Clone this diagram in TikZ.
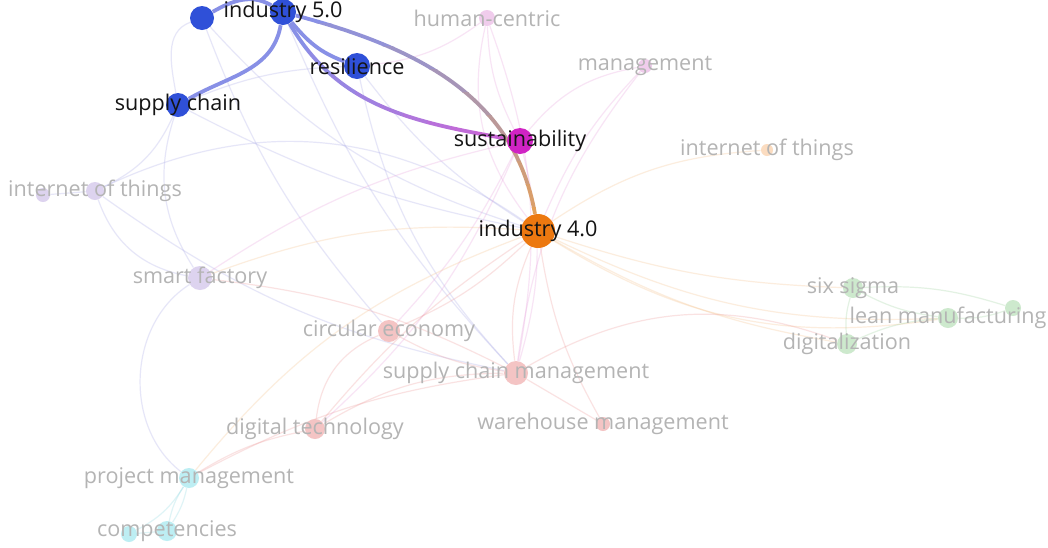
\documentclass[tikz,border=0pt]{standalone}
\usepackage{fontspec}
\setmainfont{Open Sans}
\usetikzlibrary{backgrounds}
\definecolor{Cobalt}{HTML}{2F50D8}
\definecolor{Fuchsia}{HTML}{D023C4}
\definecolor{Amber}{HTML}{EC7810}
\definecolor{LilacF}{HTML}{DDD3EF}
\definecolor{PinkF}{HTML}{F0CCEC}
\definecolor{RoseF}{HTML}{F4C4C4}
\definecolor{SageF}{HTML}{CDE9CD}
\definecolor{AquaF}{HTML}{BDEEF3}
\definecolor{PeachF}{HTML}{FBDCC0}
\definecolor{BlueLn}{HTML}{8890E6}
\definecolor{VioletLn}{HTML}{D060D4}
\definecolor{TanLn}{HTML}{E4A05A}
\definecolor{LilacLn}{HTML}{A8A8E6}
\definecolor{PinkLn}{HTML}{E8A0DC}
\definecolor{RoseLn}{HTML}{EE9A9A}
\definecolor{PeachLn}{HTML}{F5C089}
\definecolor{SageLn}{HTML}{9CD29C}
\definecolor{AquaLn}{HTML}{8ED8E2}
\definecolor{Ink}{HTML}{141414}
\definecolor{Ash}{HTML}{B4B4B4}

\begin{document}
\begin{tikzpicture}[
      x=0.5pt, y=-0.5pt,
      kw/.style={circle, inner sep=0pt, minimum size=#1},
      hot/.style={label={[font=\fontsize{10.8}{13}\selectfont, text=Ink]center:#1}},
      dim/.style={label={[font=\fontsize{10.8}{13}\selectfont, text=Ash]center:#1}},
      faint/.style={line width=0.6pt, draw opacity=0.28},
      strong/.style={line width=1.9pt},
  ]

  % Frame
  \useasboundingbox (0,0) rectangle (1048,547);

  % Cluster 1 (blue)
  \node[kw=12pt, fill=Cobalt] (n1) at (202,18) {};
  \node[kw=13pt, fill=Cobalt, hot=industry 5.0] (i5) at (283,12) {};
  \node[kw=13pt, fill=Cobalt, hot=resilience] (res) at (357,66) {};
  \node[kw=12pt, fill=Cobalt, hot=supply chain] (sc) at (178,105) {};

  % Hubs
  \node[kw=13pt, fill=Fuchsia, hot=sustainability] (sus) at (520,141) {};
  \node[kw=17pt, fill=Amber, hot=industry 4.0] (i4) at (538,231) {};

  % Faded keywords
  \node[kw=8pt, fill=PinkF, dim=human-centric] (hc) at (487,18) {};
  \node[kw=7pt, fill=PinkF, dim=management] (mg) at (645,66) {};
  \node[kw=6pt, fill=PeachF, dim=internet of things] (iotR) at (767,150) {};
  \node[kw=7pt, fill=LilacF] (iotS) at (43,195) {};
  \node[kw=9pt, fill=LilacF, dim=internet of things] (iotL) at (95,191) {};
  \node[kw=12pt, fill=LilacF, dim=smart factory] (sf) at (200,278) {};
  \node[kw=11pt, fill=RoseF, dim=circular economy] (ce) at (389,331) {};
  \node[kw=12pt, fill=RoseF, dim=supply chain management] (scm) at (516,373) {};
  \node[kw=7pt, fill=RoseF, dim=warehouse management] (wm) at (603,424) {};
  \node[kw=10pt, fill=RoseF, dim=digital technology] (dt) at (315,429) {};
  \node[kw=10pt, fill=AquaF, dim=project management] (pm) at (189,478) {};
  \node[kw=8pt, fill=AquaF] (cpS) at (129,534) {};
  \node[kw=10pt, fill=AquaF, dim=competencies] (cp) at (167,531) {};
  \node[kw=10pt, fill=SageF, dim=six sigma] (ss) at (853,288) {};
  \node[kw=8pt, fill=SageF] (lmS) at (1013,308) {};
  \node[kw=10pt, fill=SageF, dim=lean manufacturing] (lm) at (948,318) {};
  \node[kw=10pt, fill=SageF, dim=digitalization] (dg) at (847,344) {};

  \begin{scope}[on background layer]
    \fill[white] (0,0) rectangle (1048,547);

    % Faint links
    \draw[faint, LilacLn] (n1) to[out=-160, in=100] (sc);
    \draw[faint, LilacLn] (n1) to[bend right=10] (ce);
    \draw[faint, LilacLn] (n1) to[bend right=15] (i4);
    \draw[faint, LilacLn] (sc) to[bend left=20] (iotL);
    \draw[faint, LilacLn] (sc) to[bend right=25] (sf);
    \draw[faint, LilacLn] (sc) to[bend left=10] (res);
    \draw[faint, LilacLn] (sc) to[bend right=8] (i4);
    \draw[faint, LilacLn] (iotS) -- (iotL);
    \draw[faint, LilacLn] (iotL) to[bend left=30] (i4);
    \draw[faint, LilacLn] (iotL) to[bend right=30] (sf);
    \draw[faint, LilacLn] (iotL) to[bend right=12] (scm);
    \draw[faint, LilacLn] (sf) to[bend right=55] (pm);
    \draw[faint, LilacLn] (res) to[bend right=15] (scm);
    \draw[faint, LilacLn] (res) to[bend right=10] (i4);
    \draw[faint, LilacLn] (i5) to[bend right=10] (scm);
    \draw[faint, PinkLn] (hc) to[bend left=15] (res);
    \draw[faint, PinkLn] (hc) to[bend right=12] (sus);
    \draw[faint, PinkLn] (hc) to[bend left=15] (scm);
    \draw[faint, PinkLn] (hc) to[bend right=25] (i4);
    \draw[faint, PinkLn] (mg) to[bend right=20] (sus);
    \draw[faint, PinkLn] (mg) to[bend right=15] (scm);
    \draw[faint, PinkLn] (mg) to[bend right=10] (i4);
    \draw[faint, PinkLn] (sus) to[bend left=15] (scm);
    \draw[faint, PinkLn] (sus) to[bend left=8] (ce);
    \draw[faint, PinkLn] (sus) to[bend left=12] (dt);
    \draw[faint, PinkLn] (sus) to[bend right=10] (sf);
    \draw[faint, PeachLn] (i4) to[bend left=15] (iotR);
    \draw[faint, PeachLn] (i4) to[bend right=12] (sf);
    \draw[faint, PeachLn] (i4) to[bend right=8] (ss);
    \draw[faint, PeachLn] (i4) to[bend right=14] (lm);
    \draw[faint, PeachLn] (i4) to[bend right=20] (lm);
    \draw[faint, PeachLn] (i4) to[bend right=10] (dg);
    \draw[faint, PeachLn] (i4) to[bend right=15] (pm);
    \draw[faint, RoseLn] (i4) to[bend right=15] (scm);
    \draw[faint, RoseLn] (i4) to[bend left=10] (ce);
    \draw[faint, RoseLn] (i4) to[bend right=10] (wm);
    \draw[faint, RoseLn] (i4) to[bend right=8] (dt);
    \draw[faint, RoseLn] (sf) to[bend left=10] (scm);
    \draw[faint, RoseLn] (ce) to[bend right=30] (dt);
    \draw[faint, RoseLn] (ce) to[bend right=10] (scm);
    \draw[faint, RoseLn] (scm) -- (wm);
    \draw[faint, RoseLn] (scm) to[bend right=15] (dt);
    \draw[faint, RoseLn] (scm) to[bend left=25] (dg);
    \draw[faint, RoseLn] (dt) to[bend right=10] (pm);
    \draw[faint, RoseLn] (scm) to[bend right=10] (pm);
    \draw[faint, SageLn] (ss) to[bend right=10] (lm);
    \draw[faint, SageLn] (ss) to[bend right=10] (dg);
    \draw[faint, SageLn] (lm) to[bend right=10] (dg);
    \draw[faint, SageLn] (lm) to[bend right=10] (lmS);
    \draw[faint, SageLn] (ss) to[bend left=10] (lmS);
    \draw[faint, AquaLn] (pm) to[bend left=15] (cpS);
    \draw[faint, AquaLn] (pm) to[bend left=10] (cp);
    \draw[faint, AquaLn] (pm) to[bend right=10] (cp);
    \draw[faint, AquaLn] (cpS) -- (cp);

    % Strong links
    \draw[strong, BlueLn] (n1) to[out=30, in=150] (i5);
    \draw[strong, BlueLn] (i5) to[out=-100, in=30] (sc);
    \draw[strong, BlueLn] (i5) to[out=-50, in=160] (res);
    \foreach \i in {0,...,9} {
      \pgfmathtruncatemacro\mix{\i*11}
      \begin{scope}
        \clip (283+\i*24,0) rectangle (307+\i*24,547);
        \draw[strong, VioletLn!\mix!BlueLn] (i5) to[out=-60, in=170] (sus);
      \end{scope}
    }
    \foreach \i in {0,...,9} {
      \pgfmathtruncatemacro\mix{\i*11}
      \begin{scope}
        \clip (0,\i*23) rectangle (1048,23+\i*23);
        \draw[strong, TanLn!\mix!BlueLn] (i5) to[out=-15, in=100] (i4);
      \end{scope}
    }
  \end{scope}

\end{tikzpicture}
\end{document}
